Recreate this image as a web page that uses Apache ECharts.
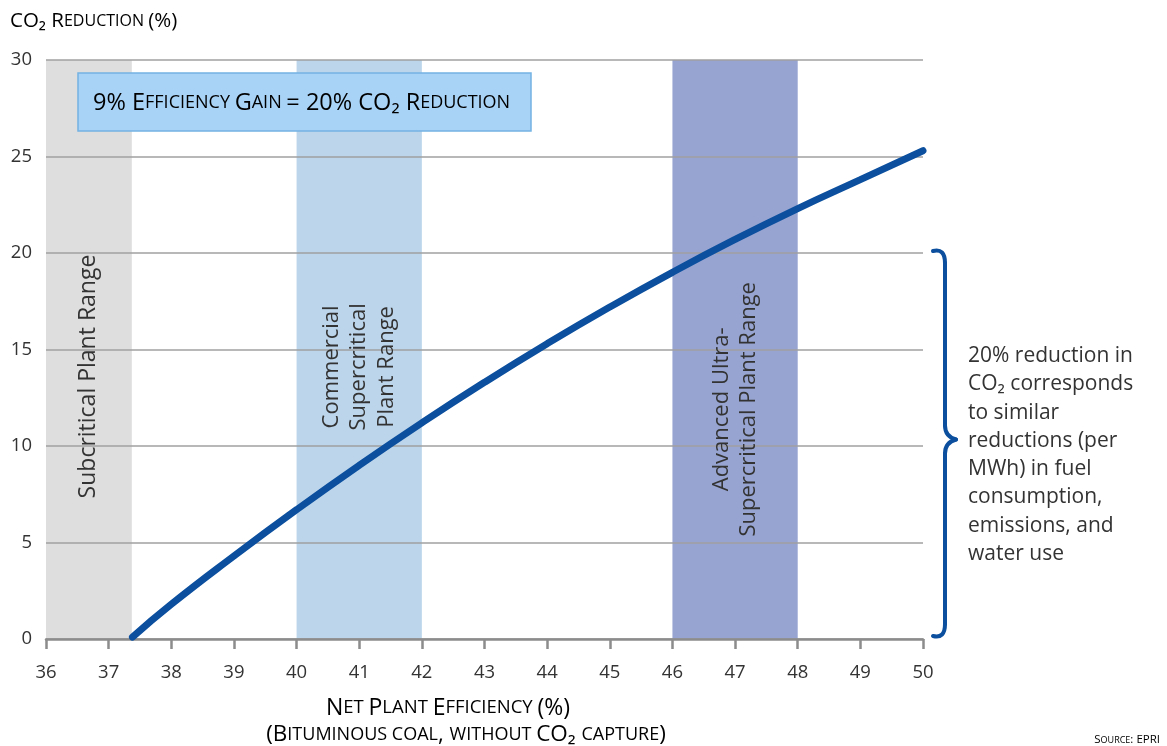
<!DOCTYPE html>
<html>
<head>
<meta charset="utf-8">
<title>CO2 Reduction vs Net Plant Efficiency</title>
<script src="https://cdn.jsdelivr.net/npm/echarts@6/dist/echarts.min.js"></script>
<style>
  html, body { margin: 0; padding: 0; background: #ffffff; }
  #chart { width: 1167px; height: 746px; }
</style>
</head>
<body>
<div id="chart"></div>
<script>
// Net plant efficiency (%) and the matching CO2 reduction (%)
const efficiency = [37.38, 38, 39, 40, 41, 42, 43, 44, 45, 46, 47, 48, 49, 50];
const reduction  = [0.1, 1.8, 4.3, 6.7, 9.0, 11.2, 13.3, 15.3, 17.2, 19.0, 20.7, 22.3, 23.8, 25.3];

// Plant technology ranges on the efficiency axis
const bandNames  = ['Subcritical Plant Range', 'Commercial\nSupercritical\nPlant Range', 'Advanced Ultra-\nSupercritical Plant Range'];
const bandStart  = [36, 40, 46];
const bandEnd    = [37.37, 42, 48];
const bandLabelY = [13.6, 14.1, 11.9];

const xTickMin = 36, xTickMax = 50, xTickStep = 1;
const yTickMin = 0, yTickMax = 30, yTickStep = 5;

const FONT = '"Open Sans", "Noto Sans", sans-serif';
const TEXT = '#333333';
const LINE_BLUE = '#0b4f9e';

// Turn a string into rich-text tokens that imitate small capitals
function smallCaps(str) {
  let out = '';
  let cur = null, buf = '';
  const flush = () => { if (buf) out += '{' + cur + '|' + buf + '}'; buf = ''; };
  for (const ch of str) {
    let style, c = ch;
    if (ch === ' ') { style = cur || 'b'; }
    else if (ch >= 'a' && ch <= 'z') { style = 's'; c = ch.toUpperCase(); }
    else { style = 'b'; }
    if (style !== cur) { flush(); cur = style; }
    buf += c;
  }
  flush();
  return out;
}
function capsRich(big, small) {
  return {
    b: { fontSize: big, fontFamily: FONT, color: TEXT },
    s: { fontSize: small, fontFamily: FONT, color: TEXT }
  };
}

const chart = echarts.init(document.getElementById('chart'), null, { renderer: 'canvas' });

chart.setOption({
  animation: false,
  backgroundColor: '#ffffff',
  grid: { left: 46, right: 244, top: 60, bottom: 107, containLabel: false },
  xAxis: {
    type: 'value', min: xTickMin, max: xTickMax, interval: xTickStep, z: 3,
    axisLine: { show: true, lineStyle: { color: '#8c8c8c', width: 2.5 } },
    axisTick: { show: true, length: 10, lineStyle: { color: '#8c8c8c', width: 2.5 } },
    axisLabel: { fontSize: 18.5, color: TEXT, fontFamily: FONT, margin: 24 },
    splitLine: { show: false }
  },
  yAxis: {
    type: 'value', min: yTickMin, max: yTickMax, interval: yTickStep, z: 3,
    axisLine: { show: false },
    axisTick: { show: false },
    axisLabel: { fontSize: 18.5, color: TEXT, fontFamily: FONT, margin: 14 },
    splitLine: { show: true, lineStyle: { color: '#a0a0a0', width: 1.5 } }
  },
  series: [
    {
      type: 'line', z: 1, data: [], silent: true,
      markArea: {
        silent: true,
        data: bandStart.map((s, i) => [
          { xAxis: s, yAxis: yTickMax, itemStyle: { color: ['#dedede', '#bcd5eb', '#97a4d1'][i] } },
          { xAxis: bandEnd[i], yAxis: yTickMin }
        ])
      }
    },
    {
      type: 'line', z: 5,
      data: efficiency.map((e, i) => [e, reduction[i]]),
      smooth: true, showSymbol: false, symbol: 'none',
      lineStyle: { color: LINE_BLUE, width: 7, cap: 'round' }
    }
  ]
});

// Annotations placed from axis coordinates
const px = (x, y) => chart.convertToPixel({ gridIndex: 0 }, [x, y]);
const graphics = [];

bandNames.forEach((name, i) => {
  const c = px((bandStart[i] + bandEnd[i]) / 2, bandLabelY[i]);
  graphics.push({
    type: 'text', x: c[0], y: c[1], rotation: Math.PI / 2, z: 10,
    style: {
      text: name, fontSize: i === 0 ? 23 : 22, fontFamily: FONT, fill: TEXT,
      align: 'center', verticalAlign: 'middle', lineHeight: 27.5
    }
  });
});

// Headline box
graphics.push({
  type: 'rect', z: 10,
  shape: { x: 78, y: 73, width: 453, height: 58 },
  style: { fill: '#a9d3f6', stroke: '#74b3e4', lineWidth: 1.5 }
});
graphics.push({
  type: 'text', x: 93, y: 103, z: 11,
  style: {
    text: smallCaps('9% Efficiency Gain = 20% CO₂ Reduction'),
    rich: capsRich(23.5, 18), verticalAlign: 'middle', align: 'left'
  }
});

// Y axis title
graphics.push({
  type: 'text', x: 10, y: 21, z: 10,
  style: { text: smallCaps('CO₂ Reduction (%)'), rich: capsRich(20.5, 16), verticalAlign: 'middle' }
});

// X axis title, two lines
graphics.push({
  type: 'text', x: 448, y: 708, z: 10,
  style: { text: smallCaps('Net Plant Efficiency (%)'), rich: capsRich(23, 18.5), align: 'center', verticalAlign: 'middle' }
});
graphics.push({
  type: 'text', x: 466, y: 735, z: 10,
  style: { text: smallCaps('(Bituminous coal, without CO₂ capture)'), rich: capsRich(22.5, 18), align: 'center', verticalAlign: 'middle' }
});

// Source credit
graphics.push({
  type: 'text', x: 1160, y: 740, z: 10,
  style: { text: smallCaps('Source: EPRI'), rich: capsRich(11.5, 9), align: 'right', verticalAlign: 'middle' }
});

// Brace spanning 0–20 % reduction, built from curve and line pieces
const braceTop = px(50, 20)[1] - 2, braceBot = px(50, 0)[1] - 3;
const braceMid = (braceTop + braceBot) / 2 - 4;
const bx = 945;
const braceStyle = { fill: 'none', stroke: LINE_BLUE, lineWidth: 4, lineCap: 'round' };
const bracePieces = [
  { type: 'bezierCurve', shape: { x1: bx - 12, y1: braceTop, cpx1: bx, cpy1: braceTop - 3, x2: bx, y2: braceTop + 12 } },
  { type: 'line', shape: { x1: bx, y1: braceTop + 12, x2: bx, y2: braceMid - 14 } },
  { type: 'bezierCurve', shape: { x1: bx, y1: braceMid - 14, cpx1: bx, cpy1: braceMid - 3, x2: bx + 11, y2: braceMid } },
  { type: 'bezierCurve', shape: { x1: bx + 11, y1: braceMid, cpx1: bx, cpy1: braceMid + 3, x2: bx, y2: braceMid + 14 } },
  { type: 'line', shape: { x1: bx, y1: braceMid + 14, x2: bx, y2: braceBot - 12 } },
  { type: 'bezierCurve', shape: { x1: bx, y1: braceBot - 12, cpx1: bx, cpy1: braceBot + 3, x2: bx - 12, y2: braceBot } }
];
bracePieces.forEach(p => graphics.push(Object.assign({ z: 10, style: braceStyle }, p)));

// Side note next to the brace
graphics.push({
  type: 'text', x: 968, y: 455, z: 10,
  style: {
    text: '20% reduction in\nCO₂ corresponds\nto similar\nreductions (per\nMWh) in fuel\nconsumption,\nemissions, and\nwater use',
    fontSize: 21, fontFamily: FONT, fill: TEXT, lineHeight: 28.3,
    align: 'left', verticalAlign: 'middle'
  }
});

chart.setOption({ graphic: graphics });
</script>
</body>
</html>
